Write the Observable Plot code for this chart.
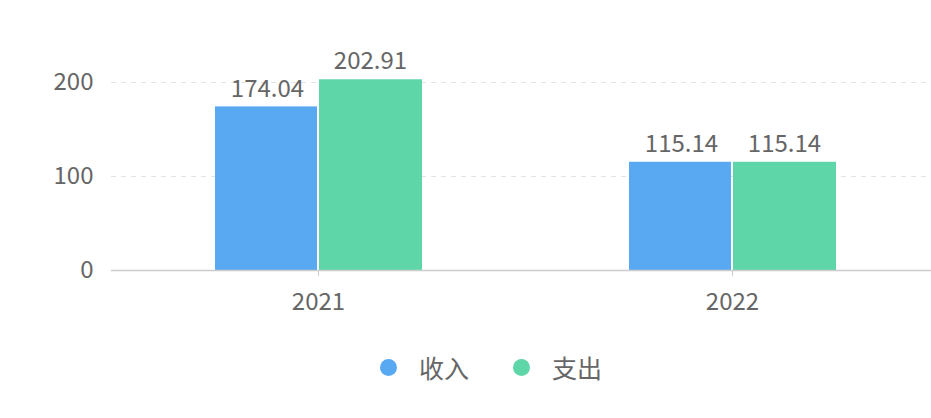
<!DOCTYPE html>
<html>
<head>
<meta charset="utf-8">
<script src="https://cdn.jsdelivr.net/npm/d3@7"></script>
<script src="https://cdn.jsdelivr.net/npm/@observablehq/plot@0.6"></script>
<style>
  html, body { margin: 0; padding: 0; background: #fff; }
  #wrap { position: relative; width: 931px; height: 418px; overflow: hidden; font-family: "Noto Sans CJK SC", "Noto Sans", sans-serif; }
  #legend { position: absolute; top: 351px; left: 380px; display: flex; gap: 44px; color: #666; font-size: 25px; line-height: 32px; }
  .item { display: flex; align-items: center; gap: 22px; }
  .dot { width: 17px; height: 17px; border-radius: 50%; display: inline-block; }
</style>
</head>
<body>
<div id="wrap"><div id="chart"></div><div id="legend"></div></div>
<script>
const years = ["2021", "2022"];
const series = ["收入", "支出"];
const income = [174.04, 115.14];
const expense = [202.91, 115.14];
const yTicks = [0, 100, 200];
const colors = ["#58a8f2", "#5fd6a8"];

const rowsIncome = years.map((y, i) => ({year: y, series: series[0], value: income[i]}));
const rowsExpense = years.map((y, i) => ({year: y, series: series[1], value: expense[i]}));

const textStyle = {fontSize: 24, fill: "#666", fontFamily: "Noto Sans CJK SC, Noto Sans, sans-serif"};

const chart = Plot.plot({
  width: 931,
  height: 330,
  marginTop: 35,
  marginBottom: 60,
  marginLeft: 111,
  marginRight: 0,
  style: {background: "transparent", fontFamily: "Noto Sans CJK SC, Noto Sans, sans-serif"},
  x: {domain: years, range: [111, 939], padding: 0, axis: null},
  y: {domain: [0, 250], range: [270, 35], axis: null},
  marks: [
    Plot.ruleY(yTicks.filter(d => d > 0), {stroke: "#e3e3e3", strokeDasharray: "5,5"}),
    Plot.barY(rowsIncome, {x: "year", y: "value", fill: colors[0], insetLeft: 104, insetRight: 208}),
    Plot.barY(rowsExpense, {x: "year", y: "value", fill: colors[1], insetLeft: 208, insetRight: 103}),
    Plot.ruleY([0], {stroke: "#cccccc", strokeWidth: 1.5}),
    Plot.axisX({tickSize: 6, tickPadding: 16, stroke: "#cccccc", ...textStyle, label: null}),
    Plot.axisY({ticks: yTicks, tickSize: 0, tickPadding: 18, ...textStyle, label: null}),
    Plot.text(rowsIncome, {x: "year", y: "value", text: d => d.value.toFixed(2), dx: -51, dy: -18, ...textStyle}),
    Plot.text(rowsExpense, {x: "year", y: "value", text: d => d.value.toFixed(2), dx: 52, dy: -18, ...textStyle})
  ]
});
document.getElementById("chart").appendChild(chart);

const legend = document.getElementById("legend");
series.forEach((s, i) => {
  const item = document.createElement("div");
  item.className = "item";
  const dot = document.createElement("span");
  dot.className = "dot";
  dot.style.background = colors[i];
  const label = document.createElement("span");
  label.textContent = s;
  item.appendChild(dot);
  item.appendChild(label);
  legend.appendChild(item);
});
</script>
</body>
</html>
